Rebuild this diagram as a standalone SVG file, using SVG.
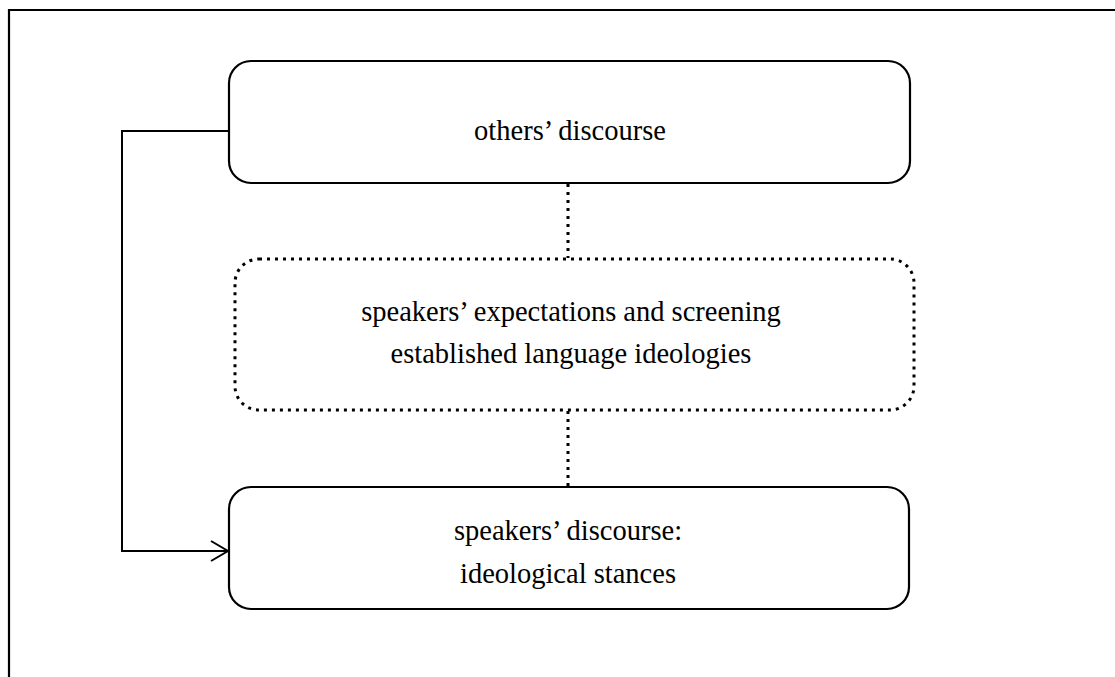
<svg xmlns="http://www.w3.org/2000/svg" width="1115" height="677" viewBox="0 0 1115 677">
  <style>
    .box { fill: #fff; stroke: #000; stroke-width: 2.2; }
    .dotted { fill: none; stroke: #000; stroke-width: 3; stroke-dasharray: 3 5; }
    .label { font-family: "Liberation Serif", "Times New Roman", serif; font-size: 28.5px; fill: #000; text-anchor: middle; }
    .wire { fill: none; stroke: #000; stroke-width: 2; }
  </style>
  <defs>
    <marker id="open-arrow" markerWidth="20" markerHeight="24" refX="18" refY="11" orient="auto" markerUnits="userSpaceOnUse">
      <path d="M1,1 L18,11 L1,21" fill="none" stroke="#000" stroke-width="2"/>
    </marker>
  </defs>
  <rect width="1115" height="677" fill="#fff"/>
  <!-- frame -->
  <path d="M9,677 L9,10 L1115,10" fill="none" stroke="#000" stroke-width="2.2"/>

  <g id="connectors">
    <line class="dotted" x1="568" y1="184" x2="568" y2="258"/>
    <line class="dotted" x1="568" y1="411" x2="568" y2="487"/>
    <path class="wire" d="M229,131 L122,131 L122,551 L228,551" marker-end="url(#open-arrow)"/>
  </g>

  <g id="others-discourse">
    <rect class="box" x="229" y="61" width="681" height="122" rx="22" ry="22"/>
    <text class="label" x="570" y="140">others’ discourse</text>
  </g>

  <g id="expectations-screening">
    <rect class="dotted" x="235" y="259" width="679" height="151" rx="24" ry="24"/>
    <text class="label" x="571" y="321">speakers’ expectations and screening</text>
    <text class="label" x="571" y="363">established language ideologies</text>
  </g>

  <g id="speakers-discourse">
    <rect class="box" x="229" y="487" width="680" height="122" rx="22" ry="22"/>
    <text class="label" x="568" y="540">speakers’ discourse:</text>
    <text class="label" x="568" y="583">ideological stances</text>
  </g>
</svg>
